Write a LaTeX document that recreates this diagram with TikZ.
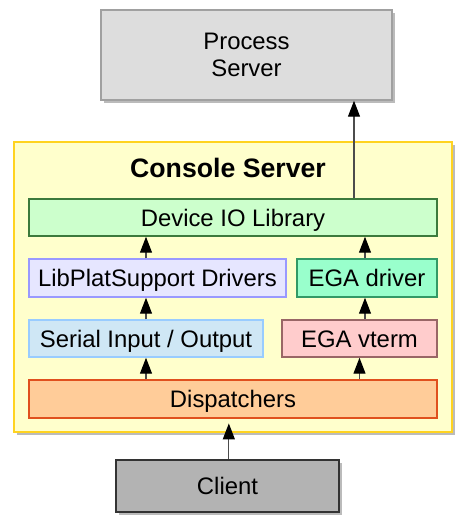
\documentclass[tikz,border=0pt]{standalone}
\usepackage{fontspec}
\setmainfont{Liberation Sans}
\usepackage{xcolor}
\usetikzlibrary{arrows.meta,shadows}

\definecolor{procfill}{HTML}{DDDDDD}
\definecolor{procdraw}{HTML}{A0A0A0}
\definecolor{consfill}{HTML}{FFFFCC}
\definecolor{consdraw}{HTML}{FFD320}
\definecolor{devfill}{HTML}{CCFFCC}
\definecolor{devdraw}{HTML}{3C7A3C}
\definecolor{libfill}{HTML}{E6E6FF}
\definecolor{libdraw}{HTML}{9999FF}
\definecolor{egafill}{HTML}{99FFCC}
\definecolor{egadraw}{HTML}{339966}
\definecolor{serfill}{HTML}{CFE7F5}
\definecolor{serdraw}{HTML}{99CCFF}
\definecolor{vtfill}{HTML}{FFCCCC}
\definecolor{vtdraw}{HTML}{996666}
\definecolor{dispfill}{HTML}{FFCC99}
\definecolor{dispdraw}{HTML}{E0501E}
\definecolor{clifill}{HTML}{B3B3B3}
\definecolor{clidraw}{HTML}{333333}
\definecolor{shade}{HTML}{BBBBBB}

\begin{document}
\begin{tikzpicture}[x=0.75pt,y=0.75pt,yscale=-1,xscale=1,
  box/.style={draw, line width=1.1pt, inner sep=0pt,
    font=\fontsize{17.9}{20.5}\selectfont},
  inbox/.style={box, text height=12.8pt, text depth=0pt},
  shbox/.style={box, drop shadow={shadow xshift=2.6pt, shadow yshift=-2.6pt, fill=shade, opacity=1}},
  arr/.style={draw=black!70, line width=0.9pt, -{Triangle[length=12pt,width=9pt,color=black]}}]
\useasboundingbox (0,0) rectangle (465,525);

% outer boxes
\node [shbox, align=center, fill=procfill, draw=procdraw, minimum width=218.25pt, minimum height=67.5pt] (proc) at (246.5,55) {Process\\Server};
\node [shbox, fill=consfill, draw=consdraw, minimum width=328.5pt, minimum height=217.5pt] (cons) at (233,287) {};
\node [font=\fontsize{20}{24}\selectfont\bfseries, inner sep=0pt, text height=14.3pt, text depth=0pt] (title) at (228,168) {Console Server};

% inner boxes
\node [inbox, fill=devfill, draw=devdraw, minimum width=306pt, minimum height=27.75pt] (devio) at (233,217.5) {Device IO Library};
\node [inbox, fill=libfill, draw=libdraw, minimum width=192.75pt, minimum height=28.5pt] (libplat) at (157.5,278) {LibPlatSupport Drivers};
\node [inbox, fill=egafill, draw=egadraw, minimum width=105pt, minimum height=28.5pt] (egadrv) at (367,278) {EGA driver};
\node [inbox, fill=serfill, draw=serdraw, minimum width=175.5pt, minimum height=27.75pt] (serial) at (146,338.5) {Serial Input / Output};
\node [inbox, fill=vtfill, draw=vtdraw, minimum width=116.25pt, minimum height=27.75pt] (vterm) at (359.5,338.5) {EGA vterm};
\node [inbox, fill=dispfill, draw=dispdraw, minimum width=306pt, minimum height=28.5pt] (disp) at (233,399) {Dispatchers};

% client
\node [shbox, fill=clifill, draw=clidraw, text height=12.8pt, text depth=0pt, minimum width=167.25pt, minimum height=39pt] (client) at (227.5,486) {Client};

% arrows
\draw [arr] ([xshift=90.75pt]devio.north) -- ([xshift=90.75pt]devio.north |- proc.south);
\draw [arr] (libplat.north -| serial.north) -- (devio.south -| serial.north);
\draw [arr] ([xshift=-1.5pt]egadrv.north) -- ([xshift=-1.5pt]egadrv.north |- devio.south);
\draw [arr] (serial.north) -- (serial.north |- libplat.south);
\draw [arr] ([xshift=-1.5pt]egadrv.south |- vterm.north) -- ([xshift=-1.5pt]egadrv.south);
\draw [arr] (disp.north -| serial.south) -- (serial.south);
\draw [arr] (disp.north -| vterm.south) -- (vterm.south);
\draw [arr, shorten >=3.5pt] ([xshift=1pt]client.north) -- ([xshift=1pt]client.north |- disp.south);

\end{tikzpicture}
\end{document}
